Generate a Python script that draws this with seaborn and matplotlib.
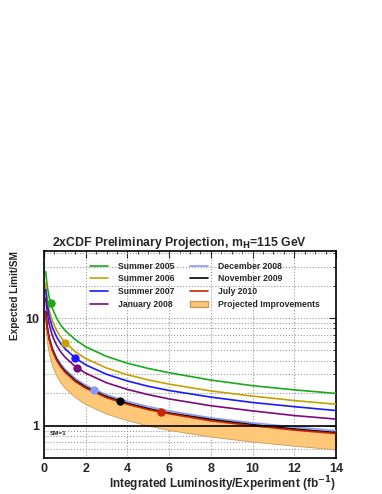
import numpy as np
import pandas as pd
import seaborn as sns
import matplotlib.pyplot as plt
from matplotlib.patches import Patch
from matplotlib.ticker import MultipleLocator, LogLocator, NullFormatter, FixedLocator, FixedFormatter

lumi = [0.08, 0.15, 0.25, 0.4, 0.6, 0.8, 1, 1.5, 2, 3, 4, 5, 6, 8, 10, 12, 14]

summer_2005 = [27, 20, 15.5, 12.3, 10.0, 8.6, 7.7, 6.3, 5.4, 4.4, 3.8, 3.4, 3.1, 2.65, 2.35, 2.15, 1.99]
summer_2006 = [21, 15.4, 11.9, 9.4, 7.7, 6.65, 5.95, 4.86, 4.2, 3.43, 2.97, 2.66, 2.43, 2.1, 1.88, 1.71, 1.58]
summer_2007 = [18.4, 13.4, 10.4, 8.2, 6.7, 5.8, 5.2, 4.25, 3.67, 3.0, 2.6, 2.32, 2.12, 1.84, 1.64, 1.5, 1.38]
january_2008 = [15.3, 11.2, 8.7, 6.86, 5.6, 4.85, 4.34, 3.54, 3.07, 2.5, 2.17, 1.94, 1.77, 1.53, 1.37, 1.24, 1.15]
december_2008 = [11.8, 8.65, 6.7, 5.3, 4.32, 3.75, 3.35, 2.74, 2.37, 1.93, 1.68, 1.5, 1.37, 1.18, 1.06, 0.97, 0.895]
november_2009 = [11.4, 8.3, 6.45, 5.1, 4.16, 3.6, 3.22, 2.63, 2.28, 1.86, 1.61, 1.44, 1.31, 1.14, 1.02, 0.93, 0.86]
july_2010 = [11.1, 8.1, 6.3, 4.98, 4.07, 3.52, 3.15, 2.57, 2.23, 1.82, 1.58, 1.41, 1.29, 1.11, 1.0, 0.91, 0.845]
band_low = [7.9, 5.8, 4.5, 3.55, 2.9, 2.5, 2.24, 1.83, 1.58, 1.29, 1.12, 1.0, 0.91, 0.79, 0.71, 0.65, 0.60]

labels = ["Summer 2005", "Summer 2006", "Summer 2007", "January 2008",
          "December 2008", "November 2009", "July 2010"]
# luminosity actually analysed for each result (dots)
dot_x = [0.32, 1.01, 1.47, 1.60, 2.41, 3.64, 5.61]
dot_y = [13.8, 5.92, 4.29, 3.43, 2.16, 1.69, 1.33]

colors = ["#1aaa1a", "#c8a000", "#1a1aff", "#7a0a80", "#8899ff", "#000000", "#cc2200"]
widths = [1.2, 1.2, 1.2, 1.2, 2.0, 1.2, 1.2]

series = [summer_2005, summer_2006, summer_2007, january_2008,
          december_2008, november_2009, july_2010]

rows = []
for lab, vals in zip(labels, series):
    for x, y in zip(lumi, vals):
        rows.append([lab, x, y])
df = pd.DataFrame(rows, columns=["result", "lumi", "limit"])

sns.set_style("white")
plt.rcParams['font.family'] = ['Liberation Sans', 'DejaVu Sans']
plt.rcParams['font.weight'] = 'bold'

fig = plt.figure(figsize=(3.82, 4.94), dpi=100)
ax = fig.add_axes([0.1152, 0.0729, 0.7644, 0.4190])

# projected improvements band
ax.fill_between(lumi, band_low, july_2010, facecolor="#ffc878", edgecolor="#c89a60",
                linewidth=0.6, zorder=2)

for lab, col, lw in zip(labels, colors, widths):
    sns.lineplot(data=df[df.result == lab], x="lumi", y="limit", color=col,
                 linewidth=lw, ax=ax, label=lab, zorder=3, estimator=None)

for x, y, col in zip(dot_x, dot_y, colors):
    ax.plot(x, y, "o", color=col, markersize=5, zorder=4)

ax.axhline(1, color="black", linewidth=1.2, zorder=5)
ax.text(0.3, 0.84, "SM=1", fontsize=4.6, fontweight="bold", va="center")

ax.set_yscale("log")
ax.set_xlim(0, 14)
ax.set_ylim(0.5, 42)

ax.xaxis.set_major_locator(MultipleLocator(2))
ax.xaxis.set_minor_locator(MultipleLocator(0.5))
ax.yaxis.set_major_locator(FixedLocator([1, 10]))
ax.yaxis.set_major_formatter(FixedFormatter(["1", "10"]))
ax.yaxis.set_minor_locator(LogLocator(base=10, subs=np.arange(2, 10)))
ax.yaxis.set_minor_formatter(NullFormatter())

ax.grid(True, which="major", axis="both", color="#999999", linestyle=":", linewidth=0.8)
ax.grid(True, which="minor", axis="y", color="#999999", linestyle=":", linewidth=0.8)

ax.tick_params(which="both", direction="in", top=True, right=True, labelsize=9)
ax.tick_params(which="major", length=5)
ax.tick_params(which="minor", length=2.5)
for s in ax.spines.values():
    s.set_linewidth(1.2)
    s.set_color("black")

ax.text(0.027, 1.022, "2xCDF Preliminary Projection, m$_\\mathbf{H}$=115 GeV",
        transform=ax.transAxes, fontsize=8.8, fontweight="bold", va="baseline")
ax.set_xlabel("Integrated Luminosity/Experiment (fb$^{\\mathbf{-1}}$)", fontsize=8.5,
              fontweight="bold", loc="right", labelpad=0)
ax.set_ylabel("Expected Limit/SM", fontsize=7.2, fontweight="bold", loc="top", labelpad=4)

handles, labs = ax.get_legend_handles_labels()
for h in handles:
    h.set_linewidth(1.2)
handles.append(Patch(facecolor="#ffc878", edgecolor="#c89a60"))
labs.append("Projected Improvements")
ax.legend(handles, labs, ncol=2, loc="upper left", bbox_to_anchor=(0.13, 0.985),
          frameon=False, fontsize=6.2, handlelength=2.1, columnspacing=1.8,
          labelspacing=0.42, handletextpad=1.15)

fig.savefig("out.png", dpi=100)
